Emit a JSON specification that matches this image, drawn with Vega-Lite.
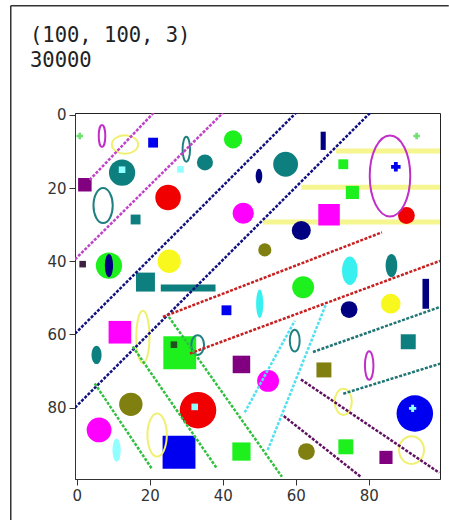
{
  "$schema": "https://vega.github.io/schema/vega-lite/v6.json",
  "width": 365,
  "height": 366,
  "autosize": {"type": "none"},
  "padding": {"left": 75, "top": 113, "right": 9, "bottom": 41},
  "background": "white",
  "title": {
    "text": ["(100, 100, 3)", "30000"],
    "anchor": "start",
    "frame": "group",
    "dx": -45,
    "offset": -86,
    "font": "DejaVu Sans Mono",
    "fontSize": 20.5,
    "fontWeight": "normal",
    "color": "#222222",
    "lineHeight": 25,
    "baseline": "bottom"
  },
  "config": {
    "view": {"stroke": "#222222", "strokeWidth": 1},
    "axis": {
      "grid": false,
      "title": null,
      "labelFont": "DejaVu Sans",
      "labelFontSize": 15,
      "labelColor": "#333333",
      "tickColor": "#333333",
      "domainColor": "#333333",
      "tickSize": 6,
      "labelPadding": 3,
      "labelFlush": false
    }
  },
  "datasets": {
    "fills": [
      {"x": 2.2, "y": 19.1, "r": 1.85, "s": "square", "c": "purple"},
      {"x": 20.9, "y": 7.6, "r": 1.35, "s": "square", "c": "blue"},
      {"x": 12.4, "y": 15.8, "r": 3.6, "s": "circle", "c": "teal"},
      {"x": 12.4, "y": 15.0, "r": 0.9, "s": "square", "c": "palecyan"},
      {"x": 28.4, "y": 14.9, "r": 0.9, "s": "square", "c": "palecyan"},
      {"x": 35.1, "y": 13.0, "r": 2.2, "s": "circle", "c": "teal"},
      {"x": 25.0, "y": 22.6, "r": 3.5, "s": "circle", "c": "red"},
      {"x": 16.1, "y": 28.6, "r": 1.35, "s": "square", "c": "teal"},
      {"x": 42.8, "y": 6.7, "r": 2.5, "s": "circle", "c": "lime"},
      {"x": 57.2, "y": 13.5, "r": 3.4, "s": "circle", "c": "teal"},
      {"x": 49.9, "y": 16.7, "r": 2.0, "s": "e45", "c": "navy"},
      {"x": 45.6, "y": 26.9, "r": 2.9, "s": "circle", "c": "magenta"},
      {"x": 61.5, "y": 31.6, "r": 2.6, "s": "circle", "c": "navy"},
      {"x": 67.5, "y": 7.1, "r": 2.5, "s": "bar28", "c": "navy"},
      {"x": 73.0, "y": 13.5, "r": 1.35, "s": "square", "c": "lime"},
      {"x": 75.5, "y": 21.2, "r": 1.8, "s": "square", "c": "lime"},
      {"x": 69.1, "y": 27.3, "r": 2.95, "s": "square", "c": "magenta"},
      {"x": 90.3, "y": 27.5, "r": 2.3, "s": "circle", "c": "red"},
      {"x": 87.4, "y": 14.2, "r": 1.3, "s": "cross", "c": "blue"},
      {"x": 93.1, "y": 5.8, "r": 0.9, "s": "cross", "c": "palelime"},
      {"x": 0.8, "y": 5.8, "r": 0.9, "s": "cross", "c": "palelime"},
      {"x": 1.6, "y": 40.8, "r": 0.9, "s": "square", "c": "dark"},
      {"x": 8.8, "y": 41.2, "r": 3.6, "s": "circle", "c": "lime"},
      {"x": 8.8, "y": 41.2, "r": 3.2, "s": "e35", "c": "navy"},
      {"x": 25.3, "y": 40.0, "r": 3.2, "s": "circle", "c": "yellow"},
      {"x": 18.8, "y": 45.7, "r": 2.6, "s": "square", "c": "teal"},
      {"x": 30.5, "y": 47.3, "r": 7.5, "s": "hbar13", "c": "teal"},
      {"x": 11.8, "y": 59.4, "r": 3.1, "s": "square", "c": "magenta"},
      {"x": 28.2, "y": 65.0, "r": 4.5, "s": "square", "c": "lime"},
      {"x": 26.6, "y": 62.8, "r": 0.9, "s": "square", "c": "darkgreen"},
      {"x": 5.4, "y": 65.6, "r": 2.5, "s": "e55", "c": "teal"},
      {"x": 51.5, "y": 36.9, "r": 1.8, "s": "circle", "c": "olive"},
      {"x": 62.0, "y": 47.1, "r": 3.0, "s": "circle", "c": "lime"},
      {"x": 50.1, "y": 51.6, "r": 3.9, "s": "e25", "c": "cyan"},
      {"x": 41.0, "y": 53.4, "r": 1.35, "s": "square", "c": "blue"},
      {"x": 45.1, "y": 68.2, "r": 2.4, "s": "square", "c": "purple"},
      {"x": 74.8, "y": 42.6, "r": 3.9, "s": "e55", "c": "cyan"},
      {"x": 86.2, "y": 41.2, "r": 3.2, "s": "e50", "c": "teal"},
      {"x": 95.6, "y": 48.9, "r": 4.1, "s": "bar22", "c": "navy"},
      {"x": 74.6, "y": 53.2, "r": 2.3, "s": "circle", "c": "navy"},
      {"x": 86.0, "y": 51.6, "r": 2.7, "s": "circle", "c": "yellow"},
      {"x": 90.8, "y": 62.0, "r": 2.05, "s": "square", "c": "teal"},
      {"x": 14.8, "y": 79.1, "r": 3.2, "s": "circle", "c": "olive"},
      {"x": 6.1, "y": 86.1, "r": 3.4, "s": "circle", "c": "magenta"},
      {"x": 10.9, "y": 91.6, "r": 3.2, "s": "e35", "c": "palecyan"},
      {"x": 28.0, "y": 92.2, "r": 4.5, "s": "square", "c": "blue"},
      {"x": 33.2, "y": 80.7, "r": 5.0, "s": "circle", "c": "red"},
      {"x": 32.3, "y": 79.8, "r": 0.9, "s": "square", "c": "palecyan"},
      {"x": 45.1, "y": 92.0, "r": 2.5, "s": "square", "c": "lime"},
      {"x": 62.9, "y": 92.0, "r": 2.3, "s": "circle", "c": "olive"},
      {"x": 52.4, "y": 72.7, "r": 3.0, "s": "circle", "c": "magenta"},
      {"x": 67.7, "y": 69.7, "r": 2.05, "s": "square", "c": "olive"},
      {"x": 92.6, "y": 81.6, "r": 5.0, "s": "circle", "c": "blue"},
      {"x": 92.0, "y": 80.2, "r": 1.0, "s": "cross", "c": "palecyan"},
      {"x": 73.7, "y": 90.7, "r": 2.05, "s": "square", "c": "lime"},
      {"x": 84.7, "y": 93.6, "r": 1.8, "s": "square", "c": "purple"}
    ],
    "outlines": [
      {"x": 6.9, "y": 5.8, "r": 3.0, "s": "e30", "c": "o_magenta"},
      {"x": 13.2, "y": 8.1, "r": 3.6, "s": "w70", "c": "o_yellow"},
      {"x": 30.0, "y": 9.4, "r": 3.4, "s": "e30", "c": "o_teal"},
      {"x": 7.2, "y": 24.8, "r": 4.8, "s": "e55", "c": "o_teal"},
      {"x": 85.8, "y": 16.7, "r": 11.1, "s": "e50", "c": "o_magenta"},
      {"x": 18.1, "y": 60.7, "r": 7.2, "s": "e25", "c": "o_yellow"},
      {"x": 59.7, "y": 61.7, "r": 3.0, "s": "e45", "c": "o_teal"},
      {"x": 33.1, "y": 62.9, "r": 2.7, "s": "e65", "c": "o_teal"},
      {"x": 80.1, "y": 68.5, "r": 3.9, "s": "e30", "c": "o_magenta"},
      {"x": 22.0, "y": 87.5, "r": 5.9, "s": "e45", "c": "o_yellow"},
      {"x": 73.0, "y": 78.4, "r": 3.6, "s": "e65", "c": "o_yellow"},
      {"x": 91.7, "y": 91.6, "r": 3.8, "s": "e90", "c": "o_yellow"}
    ],
    "lines": [
      {"x": 3.5, "y": 17.8, "x2": 21.0, "y2": -0.5, "c": "l_magenta"},
      {"x": -0.5, "y": 39.5, "x2": 40.0, "y2": -0.5, "c": "l_magenta"},
      {"x": -0.5, "y": 59.8, "x2": 60.0, "y2": -0.5, "c": "l_navy"},
      {"x": -0.5, "y": 80.0, "x2": 80.3, "y2": -0.5, "c": "l_navy"},
      {"x": 23.6, "y": 55.2, "x2": 83.6, "y2": 32.1, "c": "l_red"},
      {"x": 31.0, "y": 65.2, "x2": 99.5, "y2": 39.9, "c": "l_red"},
      {"x": 64.7, "y": 64.8, "x2": 99.5, "y2": 52.5, "c": "l_teal"},
      {"x": 73.0, "y": 76.2, "x2": 99.5, "y2": 68.0, "c": "l_teal"},
      {"x": 4.9, "y": 73.4, "x2": 20.5, "y2": 96.6, "c": "l_green"},
      {"x": 15.3, "y": 63.3, "x2": 38.3, "y2": 96.5, "c": "l_green"},
      {"x": 25.2, "y": 55.2, "x2": 56.2, "y2": 98.9, "c": "l_green"},
      {"x": 61.4, "y": 72.3, "x2": 99.3, "y2": 97.8, "c": "l_purple"},
      {"x": 56.7, "y": 82.3, "x2": 77.8, "y2": 98.9, "c": "l_purple"},
      {"x": 46.0, "y": 81.3, "x2": 59.7, "y2": 56.3, "c": "l_cyan"},
      {"x": 52.3, "y": 91.6, "x2": 68.2, "y2": 51.9, "c": "l_cyan"}
    ],
    "bands": [
      {"x": 71.0, "y": 9.9, "x2": 99.5, "y2": 9.9},
      {"x": 61.5, "y": 19.8, "x2": 99.5, "y2": 19.8},
      {"x": 51.0, "y": 29.3, "x2": 99.5, "y2": 29.3}
    ],
    "frame": [
      {"x": -18.1, "y": -29.8, "x2": -18.1, "y2": 110.7},
      {"x": -18.1, "y": -29.8, "x2": 101.9, "y2": -29.8}
    ]
  },
  "encoding": {
    "x": {
      "field": "x",
      "type": "quantitative",
      "scale": {"domain": [-0.5, 99.5], "nice": false, "zero": false},
      "axis": {"values": [0, 20, 40, 60, 80]}
    },
    "y": {
      "field": "y",
      "type": "quantitative",
      "scale": {"domain": [-0.5, 99.5], "nice": false, "zero": false, "reverse": true},
      "axis": {"values": [0, 20, 40, 60, 80]}
    }
  },
  "layer": [
    {
      "data": {"name": "frame"},
      "mark": {"type": "rule", "clip": false, "color": "#333333", "strokeWidth": 1.5},
      "encoding": {"x2": {"field": "x2"}, "y2": {"field": "y2"}}
    },
    {
      "data": {"name": "bands"},
      "mark": {"type": "rule", "clip": true, "color": "#f4f47e", "strokeWidth": 5, "opacity": 0.85},
      "encoding": {"x2": {"field": "x2"}, "y2": {"field": "y2"}}
    },
    {
      "data": {"name": "fills"},
      "mark": {"type": "point", "filled": true, "opacity": 1, "strokeWidth": 0, "clip": true},
      "encoding": {
        "size": {"field": "r", "type": "quantitative", "scale": {"type": "pow", "exponent": 2, "domain": [0, 10], "range": [0, 5329]}, "legend": null},
        "shape": {"field": "s", "type": "nominal", "legend": null, "scale": {
          "domain": ["circle", "square", "cross", "e25", "e30", "e35", "e45", "e50", "e55", "e65", "e90", "w70", "bar22", "bar28", "hbar13"],
          "range": ["circle", "square", "cross",
            "M0,-1C0.138,-1,0.25,-0.552,0.25,0C0.25,0.552,0.138,1,0,1C-0.138,1,-0.25,0.552,-0.25,0C-0.25,-0.552,-0.138,-1,0,-1Z",
            "M0,-1C0.166,-1,0.3,-0.552,0.3,0C0.3,0.552,0.166,1,0,1C-0.166,1,-0.3,0.552,-0.3,0C-0.3,-0.552,-0.166,-1,0,-1Z",
            "M0,-1C0.193,-1,0.35,-0.552,0.35,0C0.35,0.552,0.193,1,0,1C-0.193,1,-0.35,0.552,-0.35,0C-0.35,-0.552,-0.193,-1,0,-1Z",
            "M0,-1C0.248,-1,0.45,-0.552,0.45,0C0.45,0.552,0.248,1,0,1C-0.248,1,-0.45,0.552,-0.45,0C-0.45,-0.552,-0.248,-1,0,-1Z",
            "M0,-1C0.276,-1,0.5,-0.552,0.5,0C0.5,0.552,0.276,1,0,1C-0.276,1,-0.5,0.552,-0.5,0C-0.5,-0.552,-0.276,-1,0,-1Z",
            "M0,-1C0.304,-1,0.55,-0.552,0.55,0C0.55,0.552,0.304,1,0,1C-0.304,1,-0.55,0.552,-0.55,0C-0.55,-0.552,-0.304,-1,0,-1Z",
            "M0,-1C0.359,-1,0.65,-0.552,0.65,0C0.65,0.552,0.359,1,0,1C-0.359,1,-0.65,0.552,-0.65,0C-0.65,-0.552,-0.359,-1,0,-1Z",
            "M0,-1C0.497,-1,0.9,-0.552,0.9,0C0.9,0.552,0.497,1,0,1C-0.497,1,-0.9,0.552,-0.9,0C-0.9,-0.552,-0.497,-1,0,-1Z",
            "M-1,0C-1,-0.386,-0.552,-0.7,0,-0.7C0.552,-0.7,1,-0.386,1,0C1,0.386,0.552,0.7,0,0.7C-0.552,0.7,-1,0.386,-1,0Z",
            "M-0.22,-1H0.22V1H-0.22Z",
            "M-0.28,-1H0.28V1H-0.28Z",
            "M-1,-0.13H1V0.13H-1Z"
          ]}},
        "color": {"field": "c", "type": "nominal", "legend": null, "scale": {
          "domain": ["lime", "teal", "navy", "blue", "red", "magenta", "yellow", "purple", "olive", "cyan", "palecyan", "dark", "darkgreen", "palelime", "o_magenta", "o_yellow", "o_teal", "l_magenta", "l_navy", "l_red", "l_teal", "l_green", "l_purple", "l_cyan"],
          "range": ["#1ef01e", "#0e7f7f", "#000080", "#0000f0", "#f00000", "#ff00ff", "#f8f81e", "#800080", "#808010", "#38f0f0", "#90ffff", "#402040", "#205020", "#70e070", "#c030c8", "#f0f070", "#208080", "#c040c8", "#101080", "#c82020", "#207575", "#30c040", "#601060", "#50e0f0"]}}
      }
    },
    {
      "data": {"name": "outlines"},
      "mark": {"type": "point", "filled": false, "opacity": 1, "strokeWidth": 2, "clip": true},
      "encoding": {
        "size": {"field": "r", "type": "quantitative", "legend": null},
        "shape": {"field": "s", "type": "nominal", "legend": null},
        "color": {"field": "c", "type": "nominal", "legend": null}
      }
    },
    {
      "data": {"name": "lines"},
      "mark": {"type": "rule", "clip": true, "strokeWidth": 2.5, "strokeDash": [3, 1.5]},
      "encoding": {
        "x2": {"field": "x2"},
        "y2": {"field": "y2"},
        "color": {"field": "c", "type": "nominal", "legend": null}
      }
    }
  ]
}
